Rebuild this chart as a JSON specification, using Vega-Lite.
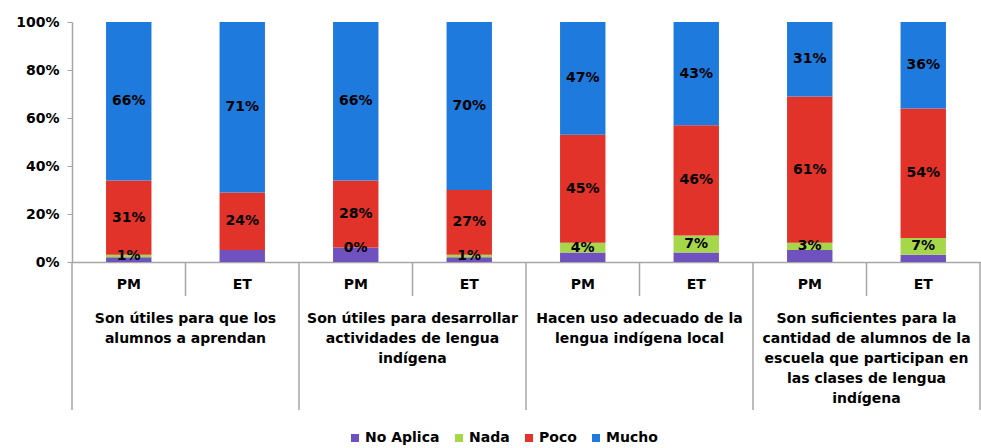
{
  "$schema": "https://vega.github.io/schema/vega-lite/v6.json",
  "autosize": "none",
  "width": 908,
  "height": 240,
  "padding": {"left": 72, "top": 22, "right": 1, "bottom": 186},
  "background": "white",
  "config": {"view": {"stroke": null}, "font": "DejaVu Sans"},
  "data": {"values": [
    {"barra": "1-PM", "sub": "PM", "grupo": "Son útiles para que  los\nalumnos a aprendan", "respuesta": "No Aplica", "valor": 0.02},
    {"barra": "1-PM", "sub": "PM", "grupo": "Son útiles para que  los\nalumnos a aprendan", "respuesta": "Nada", "valor": 0.01},
    {"barra": "1-PM", "sub": "PM", "grupo": "Son útiles para que  los\nalumnos a aprendan", "respuesta": "Poco", "valor": 0.31},
    {"barra": "1-PM", "sub": "PM", "grupo": "Son útiles para que  los\nalumnos a aprendan", "respuesta": "Mucho", "valor": 0.66},
    {"barra": "1-ET", "sub": "ET", "grupo": "Son útiles para que  los\nalumnos a aprendan", "respuesta": "No Aplica", "valor": 0.05},
    {"barra": "1-ET", "sub": "ET", "grupo": "Son útiles para que  los\nalumnos a aprendan", "respuesta": "Poco", "valor": 0.24},
    {"barra": "1-ET", "sub": "ET", "grupo": "Son útiles para que  los\nalumnos a aprendan", "respuesta": "Mucho", "valor": 0.71},
    {"barra": "2-PM", "sub": "PM", "grupo": "Son útiles para desarrollar\nactividades de lengua\nindígena", "respuesta": "No Aplica", "valor": 0.06},
    {"barra": "2-PM", "sub": "PM", "grupo": "Son útiles para desarrollar\nactividades de lengua\nindígena", "respuesta": "Nada", "valor": 0.0},
    {"barra": "2-PM", "sub": "PM", "grupo": "Son útiles para desarrollar\nactividades de lengua\nindígena", "respuesta": "Poco", "valor": 0.28},
    {"barra": "2-PM", "sub": "PM", "grupo": "Son útiles para desarrollar\nactividades de lengua\nindígena", "respuesta": "Mucho", "valor": 0.66},
    {"barra": "2-ET", "sub": "ET", "grupo": "Son útiles para desarrollar\nactividades de lengua\nindígena", "respuesta": "No Aplica", "valor": 0.02},
    {"barra": "2-ET", "sub": "ET", "grupo": "Son útiles para desarrollar\nactividades de lengua\nindígena", "respuesta": "Nada", "valor": 0.01},
    {"barra": "2-ET", "sub": "ET", "grupo": "Son útiles para desarrollar\nactividades de lengua\nindígena", "respuesta": "Poco", "valor": 0.27},
    {"barra": "2-ET", "sub": "ET", "grupo": "Son útiles para desarrollar\nactividades de lengua\nindígena", "respuesta": "Mucho", "valor": 0.70},
    {"barra": "3-PM", "sub": "PM", "grupo": "Hacen uso adecuado de la\nlengua indígena local", "respuesta": "No Aplica", "valor": 0.04},
    {"barra": "3-PM", "sub": "PM", "grupo": "Hacen uso adecuado de la\nlengua indígena local", "respuesta": "Nada", "valor": 0.04},
    {"barra": "3-PM", "sub": "PM", "grupo": "Hacen uso adecuado de la\nlengua indígena local", "respuesta": "Poco", "valor": 0.45},
    {"barra": "3-PM", "sub": "PM", "grupo": "Hacen uso adecuado de la\nlengua indígena local", "respuesta": "Mucho", "valor": 0.47},
    {"barra": "3-ET", "sub": "ET", "grupo": "Hacen uso adecuado de la\nlengua indígena local", "respuesta": "No Aplica", "valor": 0.04},
    {"barra": "3-ET", "sub": "ET", "grupo": "Hacen uso adecuado de la\nlengua indígena local", "respuesta": "Nada", "valor": 0.07},
    {"barra": "3-ET", "sub": "ET", "grupo": "Hacen uso adecuado de la\nlengua indígena local", "respuesta": "Poco", "valor": 0.46},
    {"barra": "3-ET", "sub": "ET", "grupo": "Hacen uso adecuado de la\nlengua indígena local", "respuesta": "Mucho", "valor": 0.43},
    {"barra": "4-PM", "sub": "PM", "grupo": "Son suficientes para la\ncantidad de alumnos de la\nescuela que participan en\nlas clases de lengua\nindígena", "respuesta": "No Aplica", "valor": 0.05},
    {"barra": "4-PM", "sub": "PM", "grupo": "Son suficientes para la\ncantidad de alumnos de la\nescuela que participan en\nlas clases de lengua\nindígena", "respuesta": "Nada", "valor": 0.03},
    {"barra": "4-PM", "sub": "PM", "grupo": "Son suficientes para la\ncantidad de alumnos de la\nescuela que participan en\nlas clases de lengua\nindígena", "respuesta": "Poco", "valor": 0.61},
    {"barra": "4-PM", "sub": "PM", "grupo": "Son suficientes para la\ncantidad de alumnos de la\nescuela que participan en\nlas clases de lengua\nindígena", "respuesta": "Mucho", "valor": 0.31},
    {"barra": "4-ET", "sub": "ET", "grupo": "Son suficientes para la\ncantidad de alumnos de la\nescuela que participan en\nlas clases de lengua\nindígena", "respuesta": "No Aplica", "valor": 0.03},
    {"barra": "4-ET", "sub": "ET", "grupo": "Son suficientes para la\ncantidad de alumnos de la\nescuela que participan en\nlas clases de lengua\nindígena", "respuesta": "Nada", "valor": 0.07},
    {"barra": "4-ET", "sub": "ET", "grupo": "Son suficientes para la\ncantidad de alumnos de la\nescuela que participan en\nlas clases de lengua\nindígena", "respuesta": "Poco", "valor": 0.54},
    {"barra": "4-ET", "sub": "ET", "grupo": "Son suficientes para la\ncantidad de alumnos de la\nescuela que participan en\nlas clases de lengua\nindígena", "respuesta": "Mucho", "valor": 0.36}
  ]},
  "transform": [
    {"calculate": "indexof(['No Aplica','Nada','Poco','Mucho'], datum.respuesta)", "as": "orden"},
    {"stack": "valor", "groupby": ["barra"], "sort": [{"field": "orden"}], "as": ["v0", "v1"]},
    {"calculate": "(datum.v0 + datum.v1) / 2", "as": "vmid"}
  ],
  "encoding": {
    "x": {
      "field": "barra", "type": "nominal", "sort": null,
      "scale": {"paddingInner": 0, "paddingOuter": 0},
      "axis": {
        "title": null, "labelAngle": 0, "ticks": false, "tickSize": 0,
        "labelExpr": "split(datum.label, '-')[1]",
        "labelPadding": 15, "labelFontSize": 14, "labelFontWeight": "bold", "labelColor": "#000",
        "domainColor": "#a6a6a6", "domainWidth": 1.5
      }
    }
  },
  "layer": [
    {
      "mark": {"type": "bar", "width": {"band": 0.4}},
      "encoding": {
        "y": {
          "field": "v0", "type": "quantitative",
          "scale": {"domain": [0, 1], "nice": false},
          "axis": {
            "title": null, "format": ".0%", "values": [0, 0.2, 0.4, 0.6, 0.8, 1],
            "grid": false, "tickSize": 5, "tickColor": "#a6a6a6", "domainColor": "#a6a6a6",
            "domainWidth": 1.5, "labelPadding": 8, "labelFontSize": 14, "labelFontWeight": "bold", "labelColor": "#000"
          }
        },
        "y2": {"field": "v1"},
        "color": {
          "field": "respuesta", "type": "nominal",
          "scale": {"domain": ["No Aplica", "Nada", "Poco", "Mucho"], "range": ["#7052be", "#a6d74b", "#e2332a", "#1e7adc"]},
          "legend": {
            "title": null, "orient": "none", "direction": "horizontal",
            "legendX": 276, "legendY": 409,
            "symbolType": "square", "symbolSize": 64, "symbolStrokeWidth": 0,
            "labelFontSize": 14, "labelFontWeight": "bold", "labelColor": "#000", "labelOffset": 3, "columnPadding": 12
          }
        }
      }
    },
    {
      "transform": [{"filter": "datum.respuesta != 'No Aplica'"}],
      "mark": {"type": "text", "fontSize": 14, "fontWeight": "bold", "color": "#000"},
      "encoding": {
        "y": {"field": "vmid", "type": "quantitative"},
        "text": {"field": "valor", "type": "quantitative", "format": ".0%"}
      }
    },
    {
      "transform": [{"filter": "datum.respuesta == 'Mucho' && datum.sub == 'PM'"}],
      "mark": {"type": "rule", "color": "#a6a6a6", "strokeWidth": 1.5},
      "encoding": {
        "x": {"field": "barra", "type": "nominal", "sort": null, "bandPosition": 0},
        "y": {"datum": 0},
        "y2": {"datum": -0.617}
      }
    },
    {
      "transform": [{"filter": "datum.respuesta == 'Mucho' && datum.barra == '4-ET'"}],
      "mark": {"type": "rule", "color": "#a6a6a6", "strokeWidth": 1.5},
      "encoding": {
        "x": {"field": "barra", "type": "nominal", "sort": null, "bandPosition": 1},
        "y": {"datum": 0},
        "y2": {"datum": -0.617}
      }
    },
    {
      "transform": [{"filter": "datum.respuesta == 'Mucho' && datum.sub == 'ET'"}],
      "mark": {"type": "rule", "color": "#a6a6a6", "strokeWidth": 1.5},
      "encoding": {
        "x": {"field": "barra", "type": "nominal", "sort": null, "bandPosition": 0},
        "y": {"datum": 0},
        "y2": {"datum": -0.142}
      }
    },
    {
      "transform": [{"filter": "datum.respuesta == 'Mucho' && datum.sub == 'ET'"}],
      "mark": {"type": "text", "fontSize": 14, "fontWeight": "bold", "color": "#000", "baseline": "top", "lineBreak": "\n", "lineHeight": 20, "align": "center"},
      "encoding": {
        "x": {"field": "barra", "type": "nominal", "sort": null, "bandPosition": 0},
        "y": {"datum": -0.208},
        "text": {"field": "grupo"}
      }
    }
  ]
}
